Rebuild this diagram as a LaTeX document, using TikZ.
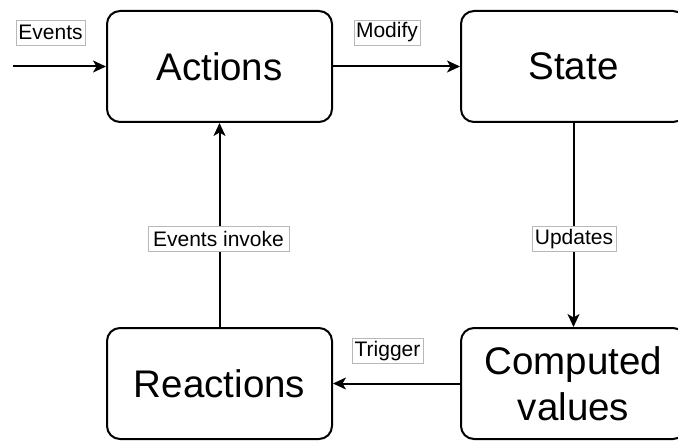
\documentclass[tikz,border=0pt]{standalone}
\usepackage{fontspec}
\setmainfont{Liberation Sans}
\usetikzlibrary{arrows.meta}
\begin{document}
\begin{tikzpicture}[x=1pt,y=-1pt,
  box/.style={draw=black, line width=2pt, rounded corners=13pt, minimum width=225pt, minimum height=111pt, align=center, inner sep=0pt, font=\fontsize{38.5}{46}\selectfont},
  lbl/.style={draw=black!28, line width=0.8pt, fill=white, inner sep=0pt, minimum height=25pt, font=\fontsize{21}{25}\selectfont},
  conn/.style={line width=2pt, -{Stealth[length=13pt,width=12pt,inset=3.5pt]}}]
\clip (0,0) rectangle (678,441);
\fill[white] (0,0) rectangle (678,441);
\node[box] (actions) at (219.5,66.5) {Actions};
\node[box] (state) at (573.5,66.5) {State};
\node[box] (reactions) at (219.5,383.5) {Reactions};
\node[box] (computed) at (573.5,383.5) {Computed\\values};
\coordinate (start) at (13,66.5);
\draw[conn] (start) -- (actions.west);
\draw[conn] (actions.east) -- (state.west);
\draw[conn] (state.south) -- (computed.north);
\draw[conn] (computed.west) -- (reactions.east);
\draw[conn] (reactions.north) -- (actions.south);
\node[lbl, minimum width=69pt] (levents) at (50.5,32.5) {Events};
\node[lbl, minimum width=66pt] (lmodify) at (387,32.5) {Modify};
\node[lbl, minimum width=84pt] (lupdates) at (574,239) {Updates};
\node[lbl, minimum width=141pt] (linvoke) at (218.5,239) {Events invoke};
\node[lbl, minimum width=71pt] (ltrigger) at (387.5,351) {Trigger};
\end{tikzpicture}
\end{document}
